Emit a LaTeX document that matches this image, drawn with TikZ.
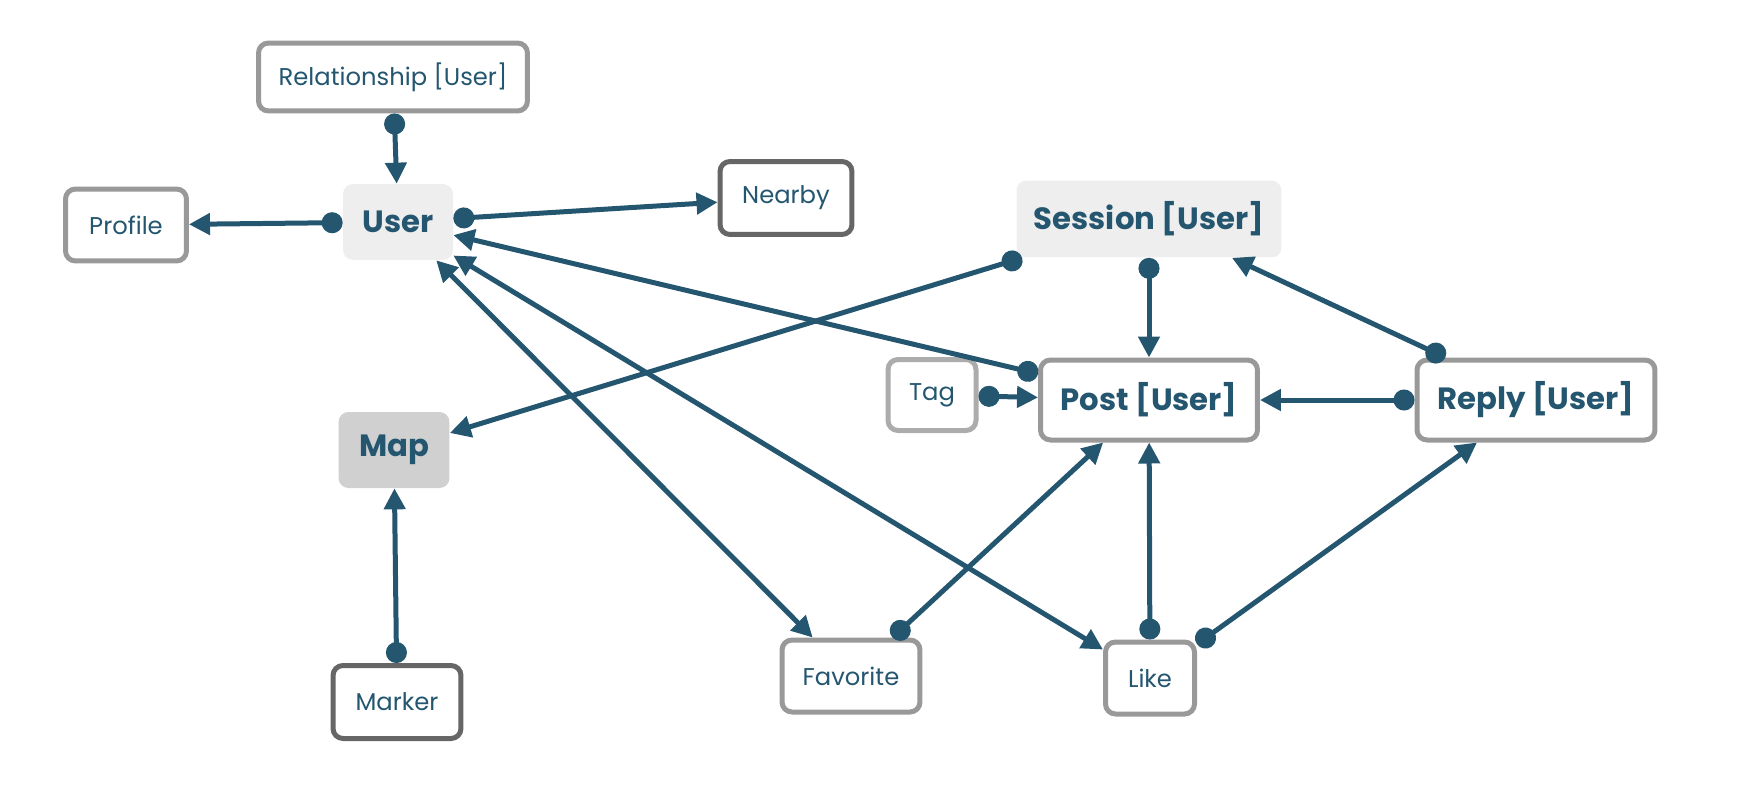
\documentclass[tikz,border=0pt]{standalone}
\usepackage{fontspec}
\setmainfont{Poppins}
\usetikzlibrary{arrows.meta}

\definecolor{ink}{RGB}{36,86,112}
\definecolor{lightline}{RGB}{153,153,153}
\definecolor{darkline}{RGB}{102,102,102}
\definecolor{tagline}{RGB}{172,172,172}
\definecolor{softfill}{RGB}{238,238,238}
\definecolor{mapfill}{RGB}{208,208,208}

\begin{document}
\begin{tikzpicture}
  [x=0.02cm,y=-0.02cm,
  box/.style={rectangle,rounded corners=0.2cm,draw=lightline,line width=0.1cm,fill=white,text=ink,inner sep=0pt,font=\fontsize{13.8}{16}\selectfont},
  darkbox/.style={box,draw=darkline},
  bigbox/.style={box,font=\fontsize{17.5}{21}\selectfont\bfseries},
  plainbox/.style={rectangle,rounded corners=0.2cm,fill=softfill,text=ink,inner sep=0pt,font=\fontsize{17.5}{21}\selectfont\bfseries},
  link/.style={ink,line width=0.1cm,{Circle[length=4.2mm]}-{Triangle[length=4.2mm,width=4.2mm]}},
  twoway/.style={ink,line width=0.1cm,{Triangle[length=4.2mm,width=4.2mm]}-{Triangle[length=4.2mm,width=4.2mm]}}]
  \useasboundingbox (0,0) rectangle (1745,785);

  \node[box,minimum width=5.38cm,minimum height=1.36cm] (rel) at (393,77) {Relationship [User]};
  \node[plainbox,minimum width=2.2cm,minimum height=1.52cm] (user) at (398,222) {User};
  \node[box,minimum width=2.42cm,minimum height=1.44cm] (profile) at (126,225) {Profile};
  \node[darkbox,minimum width=2.64cm,minimum height=1.46cm] (nearby) at (786,198) {Nearby};
  \node[plainbox,minimum width=5.3cm,minimum height=1.54cm] (session) at (1149,219) {Session [User]};
  \node[plainbox,fill=mapfill,minimum width=2.22cm,minimum height=1.52cm] (map) at (394,450) {Map};
  \node[box,draw=tagline,minimum width=1.76cm,minimum height=1.42cm] (tag) at (932,395) {Tag};
  \node[bigbox,minimum width=4.34cm,minimum height=1.6cm] (post) at (1149,400) {Post [User]};
  \node[bigbox,minimum width=4.76cm,minimum height=1.6cm] (reply) at (1536,400) {Reply [User]};
  \node[darkbox,minimum width=2.56cm,minimum height=1.46cm] (marker) at (397,702) {Marker};
  \node[box,minimum width=2.76cm,minimum height=1.44cm] (fav) at (851,676) {Favorite};
  \node[box,minimum width=1.78cm,minimum height=1.44cm] (like) at (1150,678) {Like};

  \draw [link] (rel) -- (user);
  \draw [link] (user) -- (profile);
  \draw [link] (user) -- (nearby);
  \draw [link] (post) -- (user);
  \draw [link] (session) -- (map);
  \draw [link] (session) -- (post);
  \draw [link] (reply) -- (session);
  \draw [link] (tag) -- (post);
  \draw [link] (reply) -- (post);
  \draw [link] (fav) -- (post);
  \draw [link] (like) -- (post);
  \draw [link] (like) -- (reply);
  \draw [link] (marker) -- (map);
  \draw [twoway] (user) -- (fav);
  \draw [twoway] (user) -- (like);

\end{tikzpicture}
\end{document}
